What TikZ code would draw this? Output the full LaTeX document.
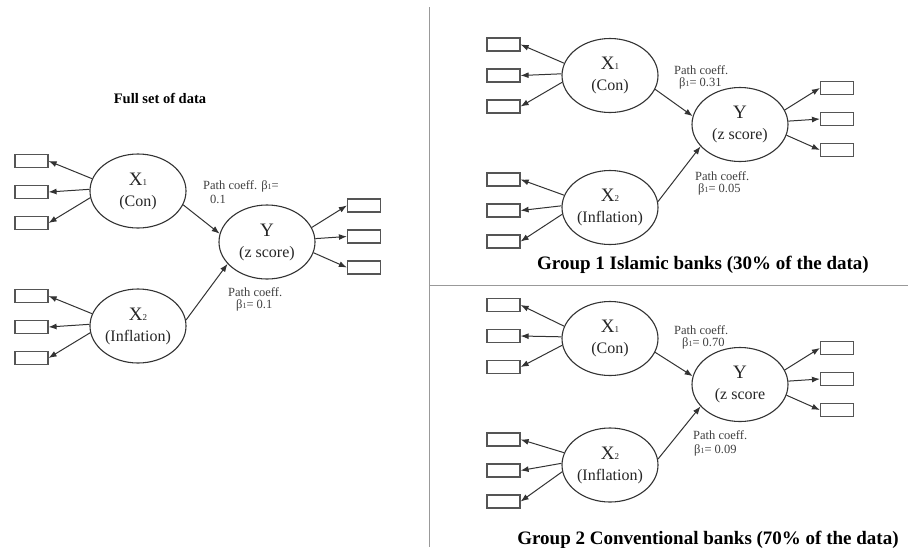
\documentclass[tikz,border=0pt]{standalone}
\usepackage{fontspec}
\setmainfont{Liberation Serif}
\usetikzlibrary{arrows.meta,shapes.geometric}

\definecolor{linec}{HTML}{333333}
\definecolor{boxc}{HTML}{555555}
\definecolor{sepc}{HTML}{999999}

% X with a small index digit, and beta_1
\newcommand\xlab[1]{{\fontsize{19}{19}\selectfont X}{\fontsize{9}{9}\selectfont #1}}
\newcommand\bsub{β{\fontsize{8}{8}\selectfont 1}}

% one structural model: #1 prefix, #2 X1 x, #3 X1 y, #4 X2 y, #5 Y x, #6 Y y,
% #7 second line of Y, #8 first indicator y of X1, #9 first indicator y of X2
\newcommand\semmodel[9]{%
  \node[latent] (#1x1) at (#2,#3) {\xlab{1}\\(Con)};
  \node[latent] (#1x2) at (#2,#4) {\xlab{2}\\(Inflation)};
  \node[latent] (#1y)  at (#5,#6) {{\fontsize{19}{19}\selectfont Y}\\#7};
  \foreach \i/\a in {0/165,1/178,2/188} {
    \node[ind] (#1a\i) at (#2-106.5,#8+31*\i) {};
    \draw[arr] (#1x1.\a) -- (#1a\i.east);
    \node[ind] (#1b\i) at (#2-106.5,#9+31*\i) {};
    \draw[arr] (#1x2.\a) -- (#1b\i.east);
  }
  \foreach \i/\a in {0/18,1/4,2/-13} {
    \node[ind] (#1c\i) at (#5+97,#6-36.5+31*\i) {};
    \draw[arr] (#1y.\a) -- (#1c\i.west);
  }
  \draw[arr] (#1x1.-17) -- (#1y.170);
  \draw[arr] (#1x2.7) -- (#1y.209);
}

\begin{document}
\begin{tikzpicture}[x=1pt,y=-1pt,
  latent/.style={ellipse, draw=linec, line width=1.1pt, minimum width=96pt,
    minimum height=74pt, inner sep=0pt, align=center,
    font=\fontsize{16}{21}\selectfont, text=black!85},
  ind/.style={rectangle, draw=boxc, line width=1.2pt, minimum width=33pt,
    minimum height=13pt, inner sep=0pt},
  arr/.style={draw=linec, line width=1pt, -{Latex[length=8pt,width=6pt]}},
  coef/.style={anchor=west, inner sep=0pt, font=\fontsize{12.5}{13}\selectfont,
    text=black!75},
  heading/.style={inner sep=0pt, font=\bfseries\fontsize{14.5}{15}\selectfont},
  caption/.style={inner sep=0pt, font=\bfseries\fontsize{19}{20}\selectfont},
  sep/.style={draw=sepc, line width=1.8pt}]

\useasboundingbox[fill=white] (0,0) rectangle (908,547);

% panel separators
\coordinate (vtop) at (429.5,7);
\coordinate (vbot) at (429.5,547);
\coordinate (hl) at (429.5,285.5);
\coordinate (hr) at (908,285.5);
\draw[sep] (vtop) -- (vbot);
\draw[sep, line width=1.5pt] (hl) -- (hr);

% full data set
\node[heading] (t0) at (160,98) {Full set of data};
\semmodel{f}{138}{191}{326}{267}{242}{(z score)}{161}{296}
\node[coef] (f1a) at (203,186.5) {Path coeff. \bsub=};
\node[coef] (f1b) at (210,199.5) {0.1};
\node[coef] (f2a) at (228,292.5) {Path coeff.};
\node[coef] (f2b) at (236,305.5) {\bsub= 0.1};

% group 1
\semmodel{g}{610}{75.5}{207.5}{740}{124.5}{(z score)}{44.5}{179.5}
\node[coef] (g1a) at (674,70) {Path coeff.};
\node[coef] (g1b) at (679,83) {\bsub= 0.31};
\node[coef] (g2a) at (695,176.5) {Path coeff.};
\node[coef] (g2b) at (698,189.5) {\bsub= 0.05};
\node[caption] (t1) at (703,265) {Group 1 Islamic banks (30\% of the data)};

% group 2
\semmodel{h}{610}{338.5}{465}{740}{384.5}{(z score}{305}{439.5}
\node[coef] (h1a) at (674,330.5) {Path coeff.};
\node[coef] (h1b) at (682,343.5) {\bsub= 0.70};
\node[coef] (h2a) at (693,435) {Path coeff.};
\node[coef] (h2b) at (694,450) {\bsub= 0.09};
\node[caption] (t2) at (708,540) {Group 2 Conventional banks (70\% of the data)};
\end{tikzpicture}
\end{document}
